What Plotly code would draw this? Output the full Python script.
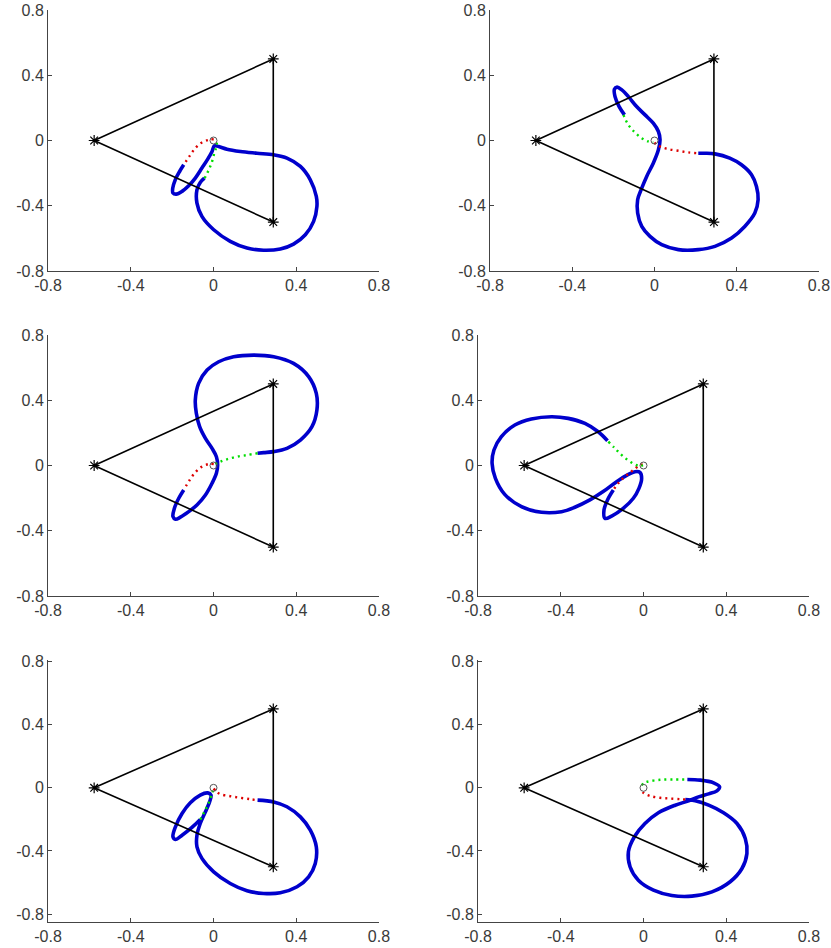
import plotly.graph_objects as go

# triangle vertices and tick labels
tri_x = [-0.577, 0.289, 0.289]
tri_y = [0.0, 0.5, -0.5]
tick_vals = [-0.8, -0.4, 0, 0.4, 0.8]
tick_text = ["-0.8", "-0.4", "0", "0.4", "0.8"]

# panel 1 (top left)
p1_red_x = [0.001, -0.023, -0.056, -0.088, -0.115, -0.144]
p1_red_y = [0.008, 0.004, -0.012, -0.047, -0.094, -0.149]
p1_blue_x = [-0.144, -0.164, -0.185, -0.197, -0.196, -0.180, -0.152, -0.120, -0.088, -0.056,
             -0.028, -0.007, 0.004, 0.025, 0.065, 0.130, 0.210, 0.291, 0.355, 0.420,
             0.468, 0.497, 0.500, 0.484, 0.444, 0.387, 0.323, 0.242, 0.162, 0.081,
             0.001, -0.056, -0.080, -0.080, -0.064, -0.044]
p1_blue_y = [-0.149, -0.190, -0.241, -0.292, -0.322, -0.329, -0.312, -0.278, -0.231, -0.169,
             -0.114, -0.067, -0.033, -0.037, -0.053, -0.067, -0.078, -0.088, -0.108, -0.159,
             -0.241, -0.343, -0.404, -0.496, -0.578, -0.635, -0.665, -0.673, -0.659, -0.618,
             -0.547, -0.465, -0.384, -0.302, -0.257, -0.231]
p1_green_x = [-0.043, -0.023, -0.007, 0.004, 0.014, 0.017]
p1_green_y = [-0.231, -0.180, -0.129, -0.078, -0.037, 0.004]

# panel 2 (top right)
p2_red_x = [0.000, 0.011, 0.035, 0.067, 0.116, 0.164, 0.210]
p2_red_y = [-0.012, -0.027, -0.041, -0.053, -0.063, -0.073, -0.078]
p2_blue_x = [0.213, 0.245, 0.294, 0.366, 0.423, 0.472, 0.496, 0.504, 0.488, 0.439,
             0.375, 0.294, 0.213, 0.116, 0.035, -0.022, -0.062, -0.082, -0.082, -0.062,
             -0.038, -0.006, 0.019, 0.027, 0.019, -0.006, -0.046, -0.087, -0.127, -0.159,
             -0.182, -0.195, -0.192, -0.172, -0.146]
p2_blue_y = [-0.078, -0.078, -0.082, -0.108, -0.149, -0.210, -0.282, -0.363, -0.445, -0.527,
             -0.598, -0.649, -0.669, -0.669, -0.639, -0.588, -0.527, -0.445, -0.363, -0.292,
             -0.220, -0.139, -0.057, 0.004, 0.055, 0.106, 0.157, 0.208, 0.269, 0.310,
             0.327, 0.314, 0.269, 0.208, 0.157]
p2_green_x = [-0.151, -0.127, -0.095, -0.062, -0.030, -0.006]
p2_green_y = [0.157, 0.096, 0.049, 0.014, -0.006, -0.012]

# panel 3 (middle left)
p3_red_x = [0.001, -0.023, -0.056, -0.088, -0.115, -0.144]
p3_red_y = [0.009, 0.009, -0.007, -0.042, -0.089, -0.150]
p3_blue_x = [-0.144, -0.168, -0.189, -0.196, -0.184, -0.160, -0.120, -0.080, -0.039, -0.007,
             0.014, 0.020, 0.014, -0.007, -0.039, -0.067, -0.083, -0.088, -0.072, -0.031,
             0.025, 0.097, 0.194, 0.291, 0.387, 0.460, 0.497, 0.500, 0.476, 0.420,
             0.355, 0.291, 0.243, 0.213]
p3_blue_y = [-0.150, -0.201, -0.262, -0.313, -0.329, -0.317, -0.283, -0.242, -0.181, -0.109,
             -0.048, 0.003, 0.054, 0.105, 0.166, 0.238, 0.320, 0.401, 0.504, 0.585,
             0.636, 0.667, 0.677, 0.667, 0.626, 0.545, 0.442, 0.340, 0.238, 0.156,
             0.105, 0.085, 0.079, 0.075]
p3_green_x = [0.213, 0.162, 0.114, 0.065, 0.033, 0.009]
p3_green_y = [0.075, 0.064, 0.054, 0.038, 0.023, 0.009]

# panel 4 (middle right)
p4_red_x = [-0.004, -0.017, -0.049, -0.090, -0.122, -0.146]
p4_red_y = [0.007, 0.003, -0.028, -0.068, -0.109, -0.150]
p4_blue_x = [-0.146, -0.174, -0.191, -0.186, -0.154, -0.098, -0.049, -0.022, -0.009, -0.017,
             -0.041, -0.073, -0.130, -0.195, -0.259, -0.332, -0.396, -0.493, -0.590, -0.671,
             -0.716, -0.732, -0.723, -0.687, -0.622, -0.542, -0.445, -0.364, -0.283, -0.219,
             -0.174]
p4_blue_y = [-0.150, -0.211, -0.273, -0.324, -0.310, -0.263, -0.201, -0.140, -0.079, -0.042,
             -0.038, -0.054, -0.099, -0.160, -0.211, -0.256, -0.283, -0.287, -0.252, -0.177,
             -0.079, 0.013, 0.095, 0.177, 0.248, 0.285, 0.299, 0.289, 0.258, 0.207,
             0.152]
p4_green_x = [-0.170, -0.141, -0.109, -0.077, -0.046, -0.022, -0.002]
p4_green_y = [0.146, 0.109, 0.068, 0.034, 0.009, -0.001, 0.001]

# panel 5 (bottom left)
p5_red_x = [0.001, 0.014, 0.033, 0.081, 0.130, 0.178, 0.210]
p5_red_y = [-0.004, -0.025, -0.040, -0.053, -0.063, -0.072, -0.078]
p5_blue_x = [0.213, 0.291, 0.355, 0.420, 0.468, 0.497, 0.492, 0.460, 0.404, 0.323,
             0.242, 0.162, 0.081, 0.001, -0.056, -0.080, -0.080, -0.064, -0.039, -0.019,
             -0.012, -0.028, -0.064, -0.112, -0.152, -0.184, -0.196, -0.184, -0.152, -0.104,
             -0.064]
p5_blue_y = [-0.078, -0.089, -0.120, -0.184, -0.268, -0.374, -0.479, -0.564, -0.627, -0.665,
             -0.669, -0.652, -0.606, -0.532, -0.447, -0.374, -0.300, -0.226, -0.152, -0.089,
             -0.046, -0.032, -0.046, -0.095, -0.163, -0.247, -0.310, -0.327, -0.300, -0.251,
             -0.201]
p5_green_x = [-0.064, -0.044, -0.028, -0.015, -0.006, 0.001]
p5_green_y = [-0.201, -0.152, -0.110, -0.068, -0.032, -0.006]

# panel 6 (bottom right)
p6_green_x = [-0.009, 0.007, 0.031, 0.080, 0.145, 0.206]
p6_green_y = [0.017, 0.034, 0.042, 0.051, 0.053, 0.053]
p6_blue_x = [0.212, 0.274, 0.339, 0.368, 0.355, 0.315, 0.266, 0.218, 0.153, 0.072,
             0.007, -0.044, -0.073, -0.065, -0.025, 0.048, 0.137, 0.234, 0.331, 0.419,
             0.476, 0.500, 0.492, 0.452, 0.387, 0.315, 0.250, 0.202]
p6_blue_y = [0.053, 0.049, 0.032, 0.006, -0.019, -0.038, -0.057, -0.082, -0.110, -0.158,
             -0.226, -0.310, -0.405, -0.500, -0.585, -0.648, -0.682, -0.686, -0.659, -0.595,
             -0.511, -0.416, -0.321, -0.226, -0.158, -0.110, -0.082, -0.074]
p6_red_x = [0.202, 0.178, 0.129, 0.080, 0.031, -0.001, -0.009]
p6_red_y = [-0.074, -0.072, -0.068, -0.063, -0.051, -0.030, -0.004]

panels = [
    (p1_blue_x, p1_blue_y, p1_red_x, p1_red_y, p1_green_x, p1_green_y),
    (p2_blue_x, p2_blue_y, p2_red_x, p2_red_y, p2_green_x, p2_green_y),
    (p3_blue_x, p3_blue_y, p3_red_x, p3_red_y, p3_green_x, p3_green_y),
    (p4_blue_x, p4_blue_y, p4_red_x, p4_red_y, p4_green_x, p4_green_y),
    (p5_blue_x, p5_blue_y, p5_red_x, p5_red_y, p5_green_x, p5_green_y),
    (p6_blue_x, p6_blue_y, p6_red_x, p6_red_y, p6_green_x, p6_green_y),
]

W, H = 831, 948
# plot-area pixel boxes (left, right, top, bottom)
boxes = [
    (48, 379, 10, 271), (490, 819, 10, 271),
    (48, 379, 335, 596), (478, 809, 335, 596),
    (48, 379, 660, 922), (478, 809, 660, 922),
]
y_ranges = [[-0.8001, 0.8001]] * 4 + [[-0.85, 0.81]] * 2

fig = go.Figure()
axis_color = "#444444"
font = dict(family="Liberation Sans", size=16, color="#3a3a3a")

for i, (bx, by, rx, ry, gx, gy) in enumerate(panels):
    n = "" if i == 0 else str(i + 1)
    xa, ya = "x" + n, "y" + n
    tri_cx = tri_x + [tri_x[0]]
    tri_cy = tri_y + [tri_y[0]]
    fig.add_trace(go.Scatter(x=bx, y=by, mode="lines", line=dict(color="#0000cc", width=3.6, shape="spline", smoothing=1.0),
                             xaxis=xa, yaxis=ya, hoverinfo="skip"))
    fig.add_trace(go.Scatter(x=rx, y=ry, mode="lines", line=dict(color="#dd0000", width=2.4, dash="2px,4px", shape="spline"),
                             xaxis=xa, yaxis=ya, hoverinfo="skip"))
    fig.add_trace(go.Scatter(x=gx, y=gy, mode="lines", line=dict(color="#00dd00", width=2.4, dash="2px,4px", shape="spline"),
                             xaxis=xa, yaxis=ya, hoverinfo="skip"))
    fig.add_trace(go.Scatter(x=tri_cx, y=tri_cy, mode="lines", line=dict(color="black", width=1.6),
                             xaxis=xa, yaxis=ya, hoverinfo="skip"))
    fig.add_trace(go.Scatter(x=tri_x, y=tri_y, mode="markers",
                             marker=dict(symbol="asterisk-open", size=9, color="black",
                                         line=dict(color="black", width=1.2)),
                             xaxis=xa, yaxis=ya, hoverinfo="skip"))
    fig.add_trace(go.Scatter(x=[0], y=[0], mode="markers",
                             marker=dict(symbol="circle-open", size=7, color="#555555", line=dict(width=1)),
                             xaxis=xa, yaxis=ya, hoverinfo="skip"))

    l, r, t, b = boxes[i]
    common = dict(showgrid=False, zeroline=False, showline=True, linecolor=axis_color, linewidth=1,
                  ticks="inside", ticklen=4, tickcolor=axis_color, tickfont=font,
                  tickvals=tick_vals, ticktext=tick_text, automargin=False,
                  ticklabeloverflow="allow")
    fig.update_layout({
        ("xaxis" + n): dict(domain=[l / W, r / W], anchor=ya, range=[-0.8001, 0.8001], **common),
        ("yaxis" + n): dict(domain=[1 - b / H, 1 - t / H], anchor=xa, range=y_ranges[i], **common),
    })

fig.update_layout(
    width=W, height=H,
    margin=dict(l=0, r=0, t=0, b=0),
    paper_bgcolor="white", plot_bgcolor="white",
    showlegend=False,
)

# drop the default page margin so the figure fills the window exactly
fig.write_html("out.html", config={"displayModeBar": False},
               post_script="document.body.style.margin='0';")
